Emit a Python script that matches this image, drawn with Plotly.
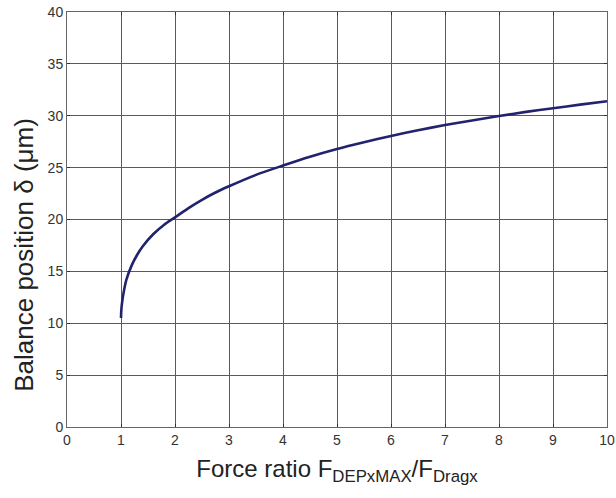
import plotly.graph_objects as go

force_ratio = [1.0, 1.005, 1.02, 1.05, 1.1, 1.2, 1.3, 1.4, 1.6, 1.8, 2.0, 2.25, 2.5, 2.75,
               3.0, 3.5, 4.0, 4.5, 5.0, 5.5, 6.0, 6.5, 7.0, 7.5, 8.0, 8.5, 9.0, 9.5, 10.0]
balance_pos = [10.5, 11.2, 12.0, 13.0, 14.2, 15.6, 16.6, 17.4, 18.6, 19.5, 20.2, 21.1, 21.9, 22.6,
               23.2, 24.3, 25.2, 26.05, 26.8, 27.45, 28.05, 28.6, 29.1, 29.55, 29.97, 30.37, 30.72,
               31.07, 31.4]

x_ticks = list(range(0, 11))
y_ticks = list(range(0, 41, 5))

fig = go.Figure()
fig.add_trace(go.Scatter(
    x=force_ratio, y=balance_pos, mode="lines",
    line=dict(color="#22236e", width=2.6, shape="spline", smoothing=0.8),
    showlegend=False, hoverinfo="skip"))

font = "Liberation Sans, Arial, sans-serif"
axis_common = dict(
    showgrid=True, gridcolor="#5a5a5a", gridwidth=1,
    showline=True, linecolor="#666666", linewidth=1, mirror="ticks",
    ticks="inside", ticklen=3, tickcolor="#333333",
    zeroline=False, ticklabeloverflow="allow", automargin=False,
    tickfont=dict(family=font, size=14, color="#333333"),
)

fig.update_layout(
    width=616, height=498,
    margin=dict(l=67, r=9, t=12, b=71),
    paper_bgcolor="white", plot_bgcolor="white",
    xaxis=dict(range=[0, 10], tickvals=x_ticks, ticktext=[str(v) for v in x_ticks],
               title=dict(text="Force ratio F<sub>DEPxMAX</sub>/F<sub>Dragx</sub>",
                          font=dict(family=font, size=24, color="#222222"), standoff=13),
               **axis_common),
    yaxis=dict(range=[0, 40], tickvals=y_ticks, ticktext=[str(v) for v in y_ticks],
               **axis_common),
    annotations=[dict(
        text="Balance position δ (μm)", textangle=-90,
        xref="paper", yref="paper", x=0, y=0.415, xshift=-43,
        xanchor="center", yanchor="middle", showarrow=False,
        font=dict(family=font, size=26, color="#222222"))],
)

fig.write_html("out.html")
